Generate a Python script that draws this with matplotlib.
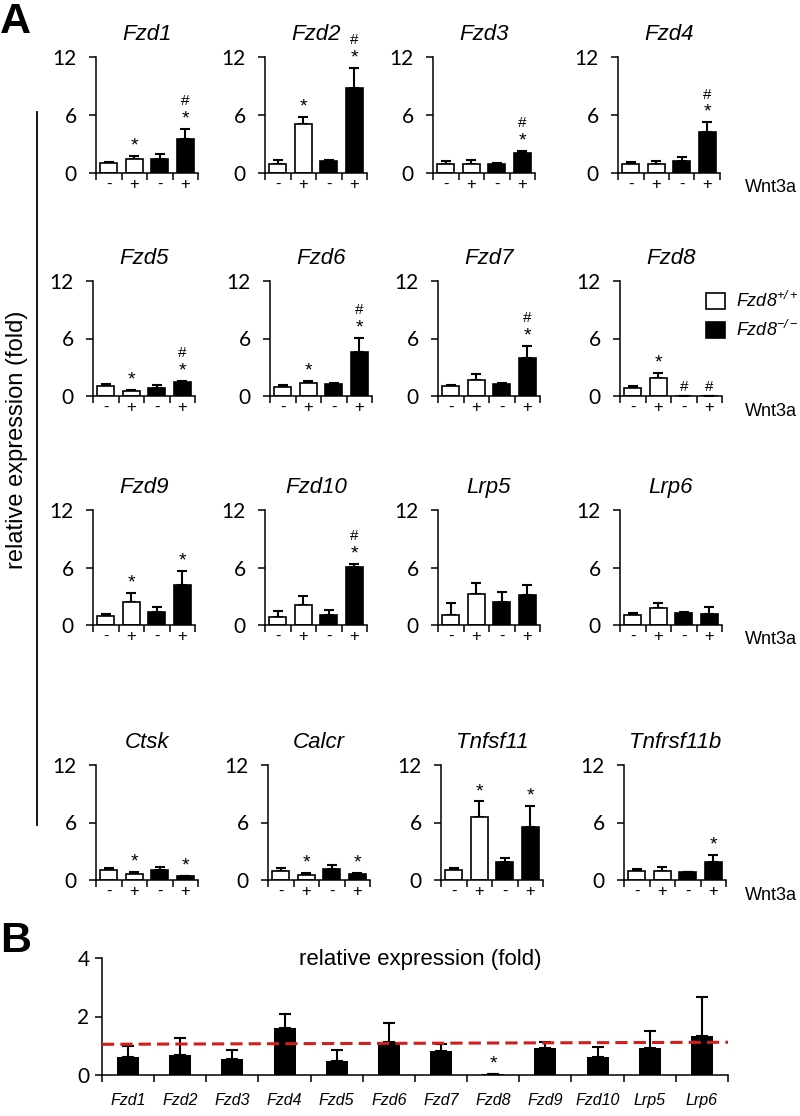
import matplotlib
matplotlib.use("Agg")
import matplotlib.pyplot as plt
from matplotlib.patches import Patch

plt.rcParams["font.family"] = ["Liberation Sans", "DejaVu Sans"]
plt.rcParams["mathtext.fontset"] = "custom"
plt.rcParams["mathtext.it"] = "Liberation Sans:italic"
plt.rcParams["mathtext.rm"] = "Liberation Sans:italic"

# panel A: 16 genes, 4 groups each (Fzd8+/+ -/+ Wnt3a, Fzd8-/- -/+ Wnt3a)
genes = ["Fzd1", "Fzd2", "Fzd3", "Fzd4",
         "Fzd5", "Fzd6", "Fzd7", "Fzd8",
         "Fzd9", "Fzd10", "Lrp5", "Lrp6",
         "Ctsk", "Calcr", "Tnfsf11", "Tnfrsf11b"]
wnt_signs = ["-", "+", "-", "+"]
means = [
    [1.04, 1.49, 1.49, 3.47],
    [0.97, 5.03, 1.25, 8.78],
    [0.97, 0.90, 0.94, 2.08],
    [0.97, 0.97, 1.20, 4.20],
    [1.04, 0.56, 0.87, 1.50],
    [0.94, 1.39, 1.25, 4.56],
    [1.00, 1.63, 1.29, 4.00],
    [0.87, 1.88, 0.05, 0.04],
    [0.99, 2.40, 1.34, 4.17],
    [0.88, 2.05, 1.06, 6.04],
    [1.03, 3.20, 2.41, 3.10],
    [1.03, 1.76, 1.24, 1.14],
    [1.04, 0.63, 1.04, 0.38],
    [0.90, 0.56, 1.15, 0.63],
    [1.04, 6.53, 1.91, 5.58],
    [0.97, 0.97, 0.80, 1.91],
]
errors = [
    [0.05, 0.25, 0.45, 1.11],
    [0.33, 0.73, 0.14, 2.09],
    [0.23, 0.40, 0.13, 0.18],
    [0.18, 0.23, 0.46, 1.04],
    [0.21, 0.10, 0.24, 0.10],
    [0.21, 0.14, 0.11, 1.49],
    [0.15, 0.63, 0.11, 1.25],
    [0.17, 0.55, 0.00, 0.00],
    [0.14, 0.96, 0.50, 1.45],
    [0.53, 1.02, 0.46, 0.32],
    [1.25, 1.21, 1.07, 1.07],
    [0.21, 0.58, 0.10, 0.69],
    [0.18, 0.17, 0.35, 0.07],
    [0.32, 0.20, 0.41, 0.10],
    [0.18, 1.67, 0.35, 2.19],
    [0.23, 0.42, 0.07, 0.69],
]
marks = [
    ["", "*", "", "#*"], ["", "*", "", "#*"], ["", "", "", "#*"], ["", "", "", "#*"],
    ["", "*", "", "#*"], ["", "*", "", "#*"], ["", "", "", "#*"], ["", "*", "#", "#"],
    ["", "*", "", "*"], ["", "", "", "#*"], ["", "", "", ""], ["", "", "", ""],
    ["", "*", "", "*"], ["", "*", "", "*"], ["", "*", "", "*"], ["", "", "", "*"],
]
bar_colors = ["white", "white", "black", "black"]

# panel B: ratio Fzd8-/- vs Fzd8+/+
b_genes = ["Fzd1", "Fzd2", "Fzd3", "Fzd4", "Fzd5", "Fzd6",
           "Fzd7", "Fzd8", "Fzd9", "Fzd10", "Lrp5", "Lrp6"]
b_means = [0.62, 0.69, 0.55, 1.59, 0.48, 1.14, 0.83, 0.04, 0.93, 0.62, 0.93, 1.34]
b_errors = [0.38, 0.58, 0.31, 0.48, 0.38, 0.65, 0.24, 0.00, 0.21, 0.35, 0.59, 1.32]
b_marks = ["", "", "", "", "", "", "", "*", "", "", "", ""]
ref_line = [1.05, 1.12]

W, H = 800, 1116
fig = plt.figure(figsize=(W / 100, H / 100), dpi=100)


def px_axes(left, top, width, height):
    return fig.add_axes([left / W, 1 - (top + height) / H, width / W, height / H])


row_top = [57, 281, 510, 765]
row_bottom = [173, 396, 625, 880]
col_left = [[96, 265, 433, 618],
            [93, 270, 438, 620],
            [93, 265, 438, 620],
            [96, 268, 441, 624]]
panel_w = 102

for k, gene in enumerate(genes):
    r, c = divmod(k, 4)
    ax = px_axes(col_left[r][c], row_top[r], panel_w, row_bottom[r] - row_top[r])
    x = range(4)
    ax.bar(x, means[k], width=0.68, color=bar_colors, edgecolor="black", linewidth=1.2, zorder=2)
    ax.errorbar(x, means[k], yerr=[[0] * 4, errors[k]], fmt="none", ecolor="black",
                elinewidth=1.5, capsize=3.5, capthick=1.5, zorder=1)
    for i, m in enumerate(marks[k]):
        top = means[k][i] + errors[k][i]
        if "*" in m:
            ax.annotate("*", (i, top), xytext=(0, 1), textcoords="offset points",
                        ha="center", va="bottom", fontsize=14)
        if "#" in m:
            off = 15 if "*" in m else 1
            ax.annotate("#", (i, top), xytext=(0, off), textcoords="offset points",
                        ha="center", va="bottom", fontsize=11)
    ax.set_xlim(-0.5, 3.5)
    ax.set_ylim(0, 12)
    ax.set_yticks([0, 6, 12])
    ax.set_xticks([-0.5, 0.5, 1.5, 2.5, 3.5])
    ax.set_xticklabels([])
    ax.set_xticks(list(x), minor=True)
    ax.set_xticklabels(wnt_signs, minor=True)
    for s in ["top", "right"]:
        ax.spines[s].set_visible(False)
    for s in ["left", "bottom"]:
        ax.spines[s].set_linewidth(1.1)
    ax.tick_params(axis="y", direction="out", length=5, width=1.1, pad=9, labelsize=15)
    for lab in ax.get_yticklabels():
        lab.set_fontfamily("Lato")
    ax.tick_params(axis="x", which="major", direction="out", length=5, width=1.1)
    ax.tick_params(axis="x", which="minor", length=0, pad=3, labelsize=12)
    ax.set_title(gene, style="italic", fontsize=16, pad=12)
    if c == 3:
        fig.text(745 / W, 1 - (row_bottom[r] + 15) / H, "Wnt3a", fontsize=13, va="center")

# left shared label and bar
fig.add_artist(plt.Line2D([37 / W, 37 / W], [1 - 112 / H, 1 - 825 / H], color="black", lw=1.3))
fig.text(17 / W, 1 - 440 / H, "relative expression (fold)", rotation=90,
         ha="center", va="center", fontsize=17)
fig.text(0 / W, 1 - 2 / H, "A", fontsize=31, fontweight="bold", va="top", ha="left")
fig.text(0 / W, 1 - 921 / H, "B", fontsize=31, fontweight="bold", va="top", ha="left")

handles = [Patch(facecolor="white", edgecolor="black", linewidth=1.2),
           Patch(facecolor="black", edgecolor="black", linewidth=1.2)]
fig.legend(handles, [r"$Fzd8^{+/+}$", r"$Fzd8^{-/-}$"],
           loc="upper left", bbox_to_anchor=(697 / W, 1 - 282 / H), frameon=False,
           fontsize=13, handlelength=1.05, handleheight=1.05, handletextpad=0.6,
           labelspacing=0.5, borderpad=0)

# panel B
axb = px_axes(102, 958, 626, 1075 - 958)
xb = range(len(b_genes))
axb.bar(xb, b_means, width=0.42, color="black", zorder=2)
axb.errorbar(xb, b_means, yerr=[[0] * len(b_means), b_errors], fmt="none", ecolor="black",
             elinewidth=1.5, capsize=4, capthick=1.5, zorder=1)
for i, m in enumerate(b_marks):
    if m:
        axb.annotate(m, (i, b_means[i] + b_errors[i]), xytext=(0, 1), textcoords="offset points",
                     ha="center", va="bottom", fontsize=14)
axb.plot([-0.5, len(b_genes) - 0.5], ref_line, color="#d11f1f", lw=2.2, ls=(0, (4, 2)), zorder=3)
axb.set_xlim(-0.5, len(b_genes) - 0.5)
axb.set_ylim(0, 4)
axb.set_yticks([0, 2, 4])
axb.set_xticks([i - 0.5 for i in range(len(b_genes) + 1)])
axb.set_xticklabels([])
axb.set_xticks(list(xb), minor=True)
axb.set_xticklabels(b_genes, minor=True, style="italic")
for s in ["top", "right"]:
    axb.spines[s].set_visible(False)
for s in ["left", "bottom"]:
    axb.spines[s].set_linewidth(1.1)
axb.tick_params(axis="y", direction="out", length=5, width=1.1, pad=4, labelsize=15)
for lab in axb.get_yticklabels():
    lab.set_fontfamily("Lato")
axb.tick_params(axis="x", which="major", direction="out", length=5, width=1.1)
axb.tick_params(axis="x", which="minor", length=0, pad=13, labelsize=11.5)
fig.text(420 / W, 1 - 960 / H, "relative expression (fold)", ha="center", va="center", fontsize=16)

fig.savefig("out.png", dpi=100)
